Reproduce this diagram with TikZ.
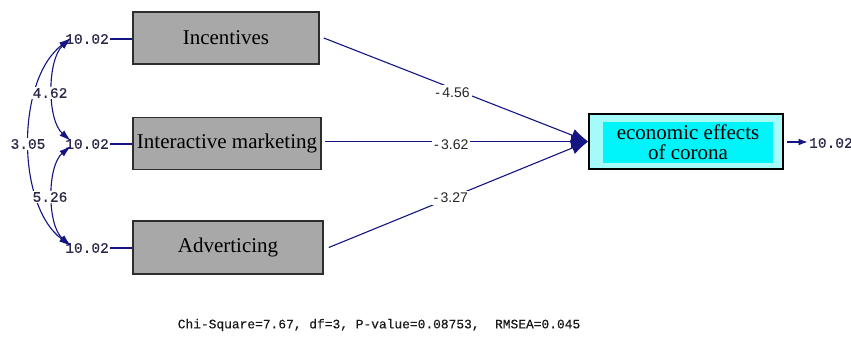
\documentclass[tikz,border=0pt]{standalone}
\usepackage{fontspec}
\setmainfont{Liberation Serif}
\newfontfamily\monofont{Liberation Mono}[FakeBold=0.4]
\newfontfamily\labfont{Liberation Sans}
\usetikzlibrary{arrows.meta}
\definecolor{pathblue}{RGB}{20,20,130}
\definecolor{boxgray}{RGB}{168,168,168}
\definecolor{boxedge}{RGB}{45,45,45}
\definecolor{palecyan}{RGB}{165,250,250}
\definecolor{brightcyan}{RGB}{0,245,250}
\definecolor{numcol}{RGB}{45,40,70}
\tikzset{
  varbox/.style={draw=boxedge, line width=1.6pt, fill=boxgray, inner sep=0pt,
    minimum height=52pt, font=\fontsize{21}{24}\selectfont},
  varlab/.style={font=\monofont\fontsize{14.5}{15}\selectfont, text=numcol, inner sep=1pt},
  covlab/.style={varlab, fill=white, inner sep=1.5pt},
  coeflab/.style={font=\labfont\fontsize{14}{15}\selectfont, text=black!85, fill=white, inner sep=2pt},
  pathline/.style={draw=pathblue, line width=1.1pt, -{Latex[length=17pt,width=13pt]}},
  covline/.style={draw=pathblue, line width=1.1pt, {Latex[length=12pt,width=7pt]}-{Latex[length=12pt,width=7pt]}},
  link/.style={draw=pathblue, line width=1.1pt},
  errline/.style={draw=pathblue, line width=1.1pt, -{Latex[length=9pt,width=7pt]}}
}
\begin{document}
\begin{tikzpicture}[x=1pt,y=-1pt]
\useasboundingbox (0,0) rectangle (851,342);

% observed variables
\node[varbox, minimum width=186pt] (inc)   at (226,38)    {Incentives};
\node[varbox, minimum width=188pt] (inter) at (227,143.5) {Interactive marketing};
\node[varbox, minimum width=190pt, minimum height=53pt] (adv) at (228,247.5) {Adverticing};

% outcome variable
\node[draw=black, line width=1.6pt, fill=palecyan, minimum width=194pt, minimum height=55pt, inner sep=0pt] (econ) at (686,141.5) {};
\node[fill=brightcyan, minimum width=170pt, minimum height=40pt, inner sep=0pt, align=center,
      font=\fontsize{21}{20}\selectfont] (econtext) at (688,142.5) {economic effects\\of corona};

% error variances
\node[varlab, anchor=east] (v1) at (110,39)  {10.02};
\node[varlab, anchor=east] (v2) at (110,144) {10.02};
\node[varlab, anchor=east] (v3) at (110,248) {10.02};
\node[varlab, anchor=west] (v4) at (808,143) {10.02};

\draw[link] (v1.east) -- (inc.west |- v1.east);
\draw[link] (v2.east) -- (inter.west |- v2.east);
\draw[link] (v3.east) -- (adv.west |- v3.east);

\coordinate (e4a) at (787,142);
\coordinate (e4b) at (807.5,142);
\draw[errline] (e4a) -- (e4b);

% covariance end points
\coordinate (c1)  at (71,38);
\coordinate (c2a) at (71,141);
\coordinate (c2b) at (71,146);
\coordinate (c3)  at (71,246);

\draw[covline] (c1) .. controls (16,80) and (16,205) .. (c3);
\draw[covline] (c1) .. controls (47,60) and (47,120) .. (c2a);
\draw[covline] (c2b) .. controls (47,166) and (47,225) .. (c3);

\node[covlab] (k1) at (28,144) {3.05};
\node[covlab] (k2) at (50,93)  {4.62};
\node[covlab] (k3) at (50,197) {5.26};

% structural paths
\draw[pathline] ([xshift=4pt]inc.east)   -- (econ.west) node[coeflab, pos=0.487, yshift=-4pt] {-\,4.56};
\draw[pathline] ([xshift=3pt]inter.east |- econ.west) -- (econ.west) node[coeflab, pos=0.48, yshift=-3pt] {-\,3.62};
\draw[pathline] ([xshift=5pt]adv.east)   -- (econ.west) node[coeflab, pos=0.47] {-\,3.27};

% fit statistics
\node[font=\monofont\fontsize{12.9}{14}\selectfont, text=black!90] (fit) at (379,325)
  {Chi-Square=7.67, df=3, P-value=0.08753,\ \ RMSEA=0.045};
\end{tikzpicture}
\end{document}
